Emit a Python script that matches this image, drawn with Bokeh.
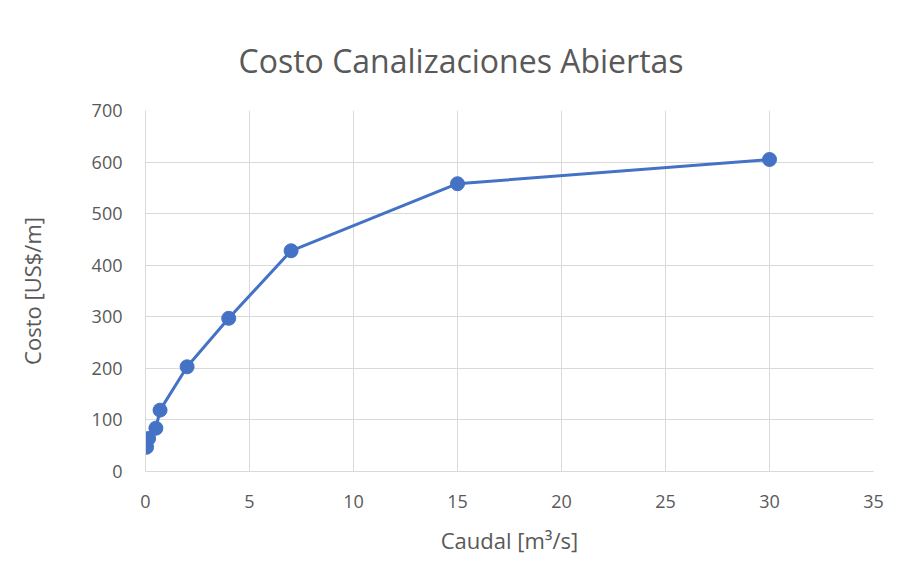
from bokeh.plotting import figure
from bokeh.models import Range1d, FixedTicker, Title
from bokeh.embed import file_html
from bokeh.resources import INLINE

caudal = [0.05, 0.15, 0.5, 0.7, 2, 4, 7, 15, 30]
costo = [47, 64, 84, 119, 203, 297, 428, 558, 605]
x_ticks = [0, 5, 10, 15, 20, 25, 30, 35]
y_ticks = [0, 100, 200, 300, 400, 500, 600, 700]

FONT = "Open Sans"
GREY = "#595959"

p = figure(width=901, height=581, output_backend="svg", toolbar_location=None,
           x_range=Range1d(0, 35), y_range=Range1d(0, 700),
           min_border_left=145, min_border_right=28, min_border_top=110, min_border_bottom=110)
p.outline_line_color = None

t = Title(text="Costo Canalizaciones Abiertas", align="left", text_font=FONT,
          text_font_size="32px", text_color=GREY, text_font_style="normal", offset=93,
          standoff=57)
p.add_layout(t, "above")

for ax in (p.xaxis[0], p.yaxis[0]):
    ax.axis_line_color = "#d9d9d9"
    ax.axis_line_width = 1
    ax.major_tick_line_color = None
    ax.minor_tick_line_color = None
    ax.major_tick_out = 0
    ax.major_tick_in = 0
    ax.minor_tick_out = 0
    ax.major_label_text_font = FONT
    ax.major_label_text_font_size = "18px"
    ax.major_label_text_color = GREY
    ax.axis_label_text_font = FONT
    ax.axis_label_text_font_size = "22px"
    ax.axis_label_text_color = GREY
    ax.axis_label_text_font_style = "normal"

p.xaxis.ticker = FixedTicker(ticks=x_ticks)
p.yaxis.ticker = FixedTicker(ticks=y_ticks)
p.xaxis.axis_label = "Caudal [m³/s]"
p.yaxis.axis_label = "Costo [US$/m]"
p.xaxis.major_label_standoff = 23
p.yaxis.major_label_standoff = 23
p.xaxis.axis_label_standoff = 14
p.yaxis.axis_label_standoff = 42

p.xgrid.ticker = FixedTicker(ticks=x_ticks)
p.ygrid.ticker = FixedTicker(ticks=y_ticks)
p.grid.grid_line_color = "#d9d9d9"
p.grid.grid_line_width = 1

p.line(caudal, costo, line_color="#4472c4", line_width=3)
p.scatter(caudal, costo, size=14, fill_color="#4472c4", line_color="#4472c4")

open("out.html", "w").write(file_html(p, INLINE))
